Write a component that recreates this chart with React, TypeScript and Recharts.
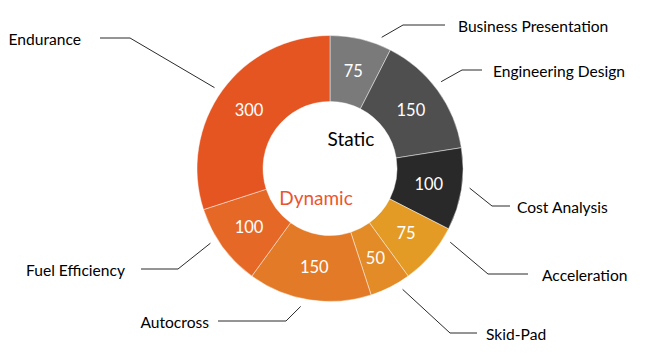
import { Cell, Pie, PieChart } from "recharts";

const categories = [
  "Business Presentation",
  "Engineering Design",
  "Cost Analysis",
  "Acceleration",
  "Skid-Pad",
  "Autocross",
  "Fuel Efficiency",
  "Endurance",
];
const points = [75, 150, 100, 75, 50, 150, 100, 300];
const colors = ["#7a7a7a", "#4f4f4f", "#292929", "#e39b25", "#e38b26", "#e37a27", "#e66827", "#e55522"];

// leader line layout per slice: angle nudge (clockwise deg), elbow offset from centre, horizontal length, text gap
const leaders = [
  { dA: 8, ex: 73, ey: -143.5, len: 42, gap: 13 },
  { dA: -2, ex: 132, ey: -98.5, len: 20, gap: 11 },
  { dA: -1, ex: 162, ey: 37.5, len: 18, gap: 7 },
  { dA: -9, ex: 158, ey: 105.5, len: 40, gap: 14 },
  { dA: -4, ex: 120, ey: 164.5, len: 27, gap: 9 },
  { dA: 3, ex: -44, ey: 152.5, len: 68, gap: 9 },
  { dA: 4, ex: -152, ey: 100.5, len: 37, gap: 16 },
  { dA: -1, ex: -200, ey: -130.5, len: 30, gap: 19 },
];

const data = categories.map((name, i) => ({ name, value: points[i] }));

const RAD = Math.PI / 180;
const FONT = "Lato, 'Open Sans', sans-serif";

function polar(cx: number, cy: number, r: number, angle: number) {
  return { x: cx + r * Math.cos(-angle * RAD), y: cy + r * Math.sin(-angle * RAD) };
}

function renderLabel(props: any) {
  const { cx, cy, midAngle, innerRadius, outerRadius, index, value } = props;
  const lay = leaders[index];
  const inner = polar(cx, cy, (innerRadius + outerRadius) / 2, midAngle);
  const start = polar(cx, cy, outerRadius + 8, midAngle - lay.dA);
  const side = lay.ex >= 0 ? 1 : -1;
  const ex = cx + lay.ex;
  const ey = cy + lay.ey;
  const hx = ex + side * lay.len;
  return (
    <g key={`lbl-${index}`}>
      <text x={inner.x} y={inner.y} fill="#fff" fontSize={16.5} textAnchor="middle" dominantBaseline="central" fontFamily={FONT}>
        {value}
      </text>
      <polyline points={`${start.x},${start.y} ${ex},${ey} ${hx},${ey}`} fill="none" stroke="#2a2a2a" strokeWidth={1} />
      <text
        x={hx + side * lay.gap}
        y={ey + 1}
        fill="#000"
        fontSize={15.6}
        textAnchor={side > 0 ? "start" : "end"}
        dominantBaseline="central"
        fontFamily={FONT}
      >
        {categories[index]}
      </text>
      {index === 0 && (
        <>
          <text x={cx + 21} y={cy - 30.5} fontSize={19} fill="#000" textAnchor="middle" dominantBaseline="central" fontFamily={FONT}>
            Static
          </text>
          <text x={cx - 14} y={cy + 28.5} fontSize={19} fill="#ec5530" textAnchor="middle" dominantBaseline="central" fontFamily={FONT}>
            Dynamic
          </text>
        </>
      )}
    </g>
  );
}

export default function App() {
  return (
    <div style={{ position: "absolute", left: 0, top: 0, width: 649, height: 355, background: "#fff" }}>
      <PieChart width={649} height={355}>
        <Pie
          data={data}
          dataKey="value"
          nameKey="name"
          cx={325}
          cy={163.5}
          innerRadius={67}
          outerRadius={133}
          startAngle={90}
          endAngle={-270}
          stroke="rgba(255,255,255,0.45)"
          strokeWidth={1}
          label={renderLabel}
          labelLine={false}
          isAnimationActive={false}
        >
          {data.map((d, i) => (
            <Cell key={d.name} fill={colors[i]} />
          ))}
        </Pie>
      </PieChart>
    </div>
  );
}
